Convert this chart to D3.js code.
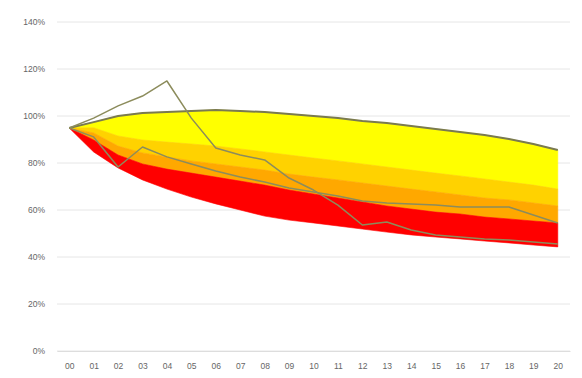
<!DOCTYPE html>
<html>
<head>
<meta charset="utf-8">
<script src="https://cdn.jsdelivr.net/npm/d3@7"></script>
<style>
  html, body { margin: 0; padding: 0; background: #fff; }
  svg { display: block; }
  text { font-family: "Liberation Sans", Arial, sans-serif; }
</style>
</head>
<body>
<svg id="chart" width="582" height="378"></svg>
<script>
// Period labels along the bottom
const periods = ["00","01","02","03","04","05","06","07","08","09","10",
                 "11","12","13","14","15","16","17","18","19","20"];

// Y axis ticks (share of starting level)
const yTicks = [0, 0.2, 0.4, 0.6, 0.8, 1.0, 1.2, 1.4];

// Fan boundaries, from the upper edge down to the lower edge (percent)
const upperEdge = [94.9, 97.4, 100.0, 101.3, 101.7, 102.1, 102.6, 102.1, 101.7, 100.9, 100.0,
                   99.1, 97.9, 97.0, 95.7, 94.5, 93.2, 91.9, 90.2, 88.1, 85.5];
const band1Low  = [94.9, 95.0, 91.5, 89.8, 88.9, 88.1, 87.2, 86.0, 84.7, 83.4, 82.1,
                   80.9, 79.6, 78.3, 77.0, 75.7, 74.5, 73.2, 71.9, 70.6, 68.9];
const band2Low  = [94.9, 92.8, 87.2, 84.3, 82.6, 80.9, 79.6, 78.3, 77.0, 75.3, 74.0,
                   72.8, 71.5, 70.2, 68.9, 67.7, 66.4, 65.1, 64.3, 63.0, 61.7];
const band3Low  = [94.9, 89.8, 83.4, 79.6, 77.4, 75.7, 74.0, 72.3, 70.6, 68.5, 66.8,
                   65.1, 63.4, 61.7, 60.4, 59.1, 58.3, 57.0, 56.2, 55.3, 54.5];
const lowerEdge = [94.9, 84.7, 77.9, 72.8, 68.9, 65.5, 62.6, 60.0, 57.4, 55.7, 54.5,
                   53.2, 51.9, 50.6, 49.4, 48.5, 47.7, 46.8, 46.0, 45.1, 44.3];

// Observed paths (percent)
const pathA = [94.9, 99.1, 104.3, 108.5, 114.9, 99.1, 86.4, 83.4, 81.3, 73.6, 68.5,
               62.1, 53.6, 54.9, 51.5, 49.4, 48.5, 47.7, 47.2, 46.4, 45.5];
const pathB = [94.9, 91.1, 78.3, 86.8, 82.6, 79.6, 76.6, 74.0, 71.9, 69.4, 67.7,
               66.0, 63.8, 63.0, 62.6, 62.1, 61.3, 61.3, 61.3, 57.9, 54.5];

const boundaries = [upperEdge, band1Low, band2Low, band3Low, lowerEdge];
const bandColors = ["#FFFF00", "#FFD200", "#FFA800", "#FF0000"];

const svg = d3.select("#chart");
const margin = { left: 57, right: 12, top: 22, bottom: 27 };
const W = 582, H = 378;

const x = d3.scalePoint()
  .domain(periods)
  .range([margin.left, W - margin.right])
  .padding(0.5);

const y = d3.scaleLinear()
  .domain([0, 1.4])
  .range([H - margin.bottom, margin.top]);

// Horizontal gridlines
svg.append("g")
  .selectAll("line")
  .data(yTicks)
  .join("line")
  .attr("x1", margin.left)
  .attr("x2", W - margin.right)
  .attr("y1", d => y(d))
  .attr("y2", d => y(d))
  .attr("stroke", "#e6e6e6")
  .attr("stroke-width", 1);

// Y axis labels
const yAxis = d3.axisLeft(y)
  .tickValues(yTicks)
  .tickFormat(d3.format(".0%"))
  .tickSize(0)
  .tickPadding(12);
const gy = svg.append("g")
  .attr("transform", `translate(${margin.left},0)`)
  .call(yAxis);
gy.select(".domain").remove();
gy.selectAll("text")
  .attr("fill", "#666666")
  .attr("font-size", 8.5)
  .attr("font-family", "Liberation Sans, Arial, sans-serif");

// X axis
const xAxis = d3.axisBottom(x).tickSize(0).tickPadding(12);
const gx = svg.append("g")
  .attr("transform", `translate(0,${y(0)})`)
  .call(xAxis);
gx.select(".domain")
  .attr("stroke", "#dddddd");
gx.selectAll("text")
  .attr("fill", "#666666")
  .attr("font-size", 8.5)
  .attr("font-family", "Liberation Sans, Arial, sans-serif");

// Fan bands
const area = d3.area()
  .x(d => x(d.p))
  .y0(d => y(d.lo / 100))
  .y1(d => y(d.hi / 100));

bandColors.forEach((color, k) => {
  const hi = boundaries[k], lo = boundaries[k + 1];
  const rows = periods.map((p, i) => ({ p, hi: hi[i], lo: lo[i] }));
  svg.append("path")
    .datum(rows)
    .attr("d", area)
    .attr("fill", color)
    .attr("stroke", color)
    .attr("stroke-width", 0.6);
});

const line = d3.line()
  .x((d, i) => x(periods[i]))
  .y(d => y(d / 100));

// Upper edge outline
svg.append("path")
  .datum(upperEdge)
  .attr("d", line)
  .attr("fill", "none")
  .attr("stroke", "#7a7a50")
  .attr("stroke-width", 2);

// Observed paths
[pathA, pathB].forEach(series => {
  svg.append("path")
    .datum(series)
    .attr("d", line)
    .attr("fill", "none")
    .attr("stroke", "#8c8c5c")
    .attr("stroke-width", 1.5)
    .attr("stroke-linejoin", "round");
});
</script>
</body>
</html>
